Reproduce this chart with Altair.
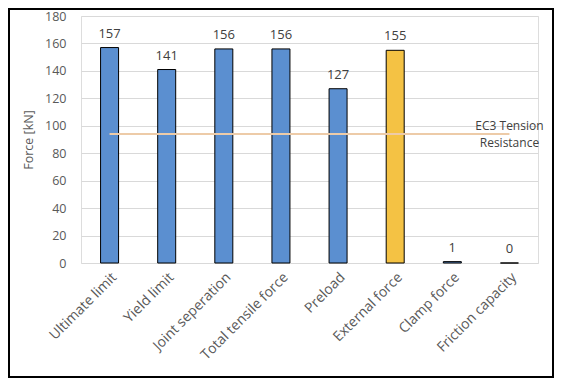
import altair as alt
import pandas as pd

categories = ["Ultimate limit", "Yield limit", "Joint seperation", "Total tensile force",
              "Preload", "External force", "Clamp force", "Friction capacity"]
values = [157, 141, 156, 156, 127, 155, 1, 0]
bar_colors = ["#5B8FD0", "#5B8FD0", "#5B8FD0", "#5B8FD0",
              "#5B8FD0", "#F4C244", "#5B8FD0", "#5B8FD0"]
ec3 = [94, 94, 94, 94, 94, 94, 94, 94]
ec3_label = "EC3 Tension\nResistance"
y_ticks = [0, 20, 40, 60, 80, 100, 120, 140, 160, 180]

df = pd.DataFrame({"cat": categories, "value": values, "color": bar_colors, "ec3": ec3})
lab = pd.DataFrame({"cat": [categories[-1]], "ec3": [ec3[-1]], "label": [ec3_label]})
frame_df = pd.DataFrame({"a": [0]})

FONT = "Open Sans"
x_axis = alt.Axis(labelAngle=-45, labelAlign="right", labelBaseline="top",
                  labelPadding=7, ticks=False, domain=False, labelOverlap=False,
                  labelFont=FONT, labelFontSize=14, labelColor="#595959")
x_scale = alt.Scale(paddingInner=0.0, paddingOuter=0.0)
y_axis = alt.Axis(values=y_ticks, ticks=False, domain=False, grid=True,
                  labelOverlap=False,
                  gridColor="#D9D9D9", labelFont=FONT, labelFontSize=12.5,
                  labelColor="#595959", labelPadding=15,
                  titleFont=FONT, titleFontSize=12.5, titleFontWeight="normal",
                  titleColor="#595959", titlePadding=9)
y_scale = alt.Scale(domain=[0, 180], nice=False)


def X():
    return alt.X("cat:N", sort=categories, title=None, scale=x_scale, axis=x_axis)


def Y(field):
    return alt.Y(field, scale=y_scale, title="Force [kN]", axis=y_axis)


bars = alt.Chart(df).mark_bar(size=18, stroke="black", strokeWidth=1).encode(
    x=X(), y=Y("value:Q"),
    color=alt.Color("color:N", scale=None),
)

texts = alt.Chart(df).mark_text(font=FONT, fontSize=13, color="#404040", dy=-10,
                                baseline="alphabetic").encode(
    x=X(), y=Y("value:Q"),
    text=alt.Text("value:Q", format=".0f"),
)

line = alt.Chart(df).mark_line(color="#EDCBA8", strokeWidth=2).encode(
    x=X(), y=Y("ec3:Q"),
)

ec3_text = alt.Chart(lab).mark_text(font=FONT, fontSize=12, color="#404040",
                                    lineBreak="\n", lineHeight=17, baseline="middle",
                                    dy=-8).encode(
    x=X(), y=Y("ec3:Q"),
    text="label:N",
)

frame = alt.Chart(frame_df).mark_rect(fill=None, stroke="black", strokeWidth=2,
                                      clip=False).encode(
    x=alt.value(-72), x2=alt.value(472), y=alt.value(-7), y2=alt.value(361),
)

chart = alt.layer(bars, line, texts, ec3_text, frame).properties(
    width=457, height=247,
    autosize=alt.AutoSizeParams(type="none"),
    padding={"left": 73, "top": 8, "right": 16, "bottom": 115},
).configure_view(strokeWidth=0).configure(background="white")

chart.save("out.html", embed_options={"renderer": "svg", "actions": False})
